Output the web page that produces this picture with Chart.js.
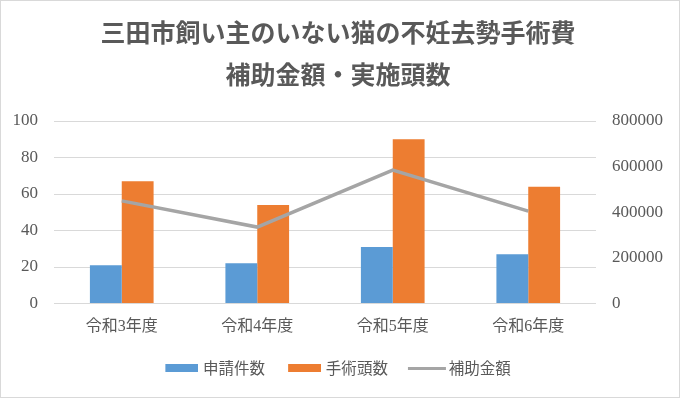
<!DOCTYPE html>
<html>
<head>
<meta charset="utf-8">
<script src="https://cdn.jsdelivr.net/npm/chart.js@4"></script>
<style>
  body { margin: 0; background: #fff; }
  #wrap { position: relative; width: 680px; height: 398px; box-sizing: border-box; border: 1px solid #d9d9d9; }
</style>
</head>
<body>
<div id="wrap"><canvas id="chart"></canvas></div>
<script>
const years = ["令和3年度", "令和4年度", "令和5年度", "令和6年度"];
const applications = [21, 22, 31, 27];
const surgeries = [67, 54, 90, 64];
const subsidy = [450000, 335000, 585000, 405000];

const leftTicks = [0, 20, 40, 60, 80, 100];
const rightTicks = [0, 200000, 400000, 600000, 800000];

const textColor = "#595959";
const numFont = '"Liberation Serif", "Noto Sans CJK JP", serif';
const jpFont = '"Noto Sans CJK JP", sans-serif';

// little pictures used as legend marks (transparent left part shifts the mark)
function mark(canvasW, fillX, fillW, h, color) {
  const c = document.createElement("canvas");
  c.width = canvasW;
  c.height = h;
  const g = c.getContext("2d");
  g.fillStyle = color;
  g.fillRect(fillX, 0, fillW, h);
  return c;
}
const legendMarks = [
  mark(36, 3, 33, 8, "#5B9BD5"),
  mark(36, 3, 33, 8, "#ED7D31"),
  mark(42, 3, 38, 3, "#A5A5A5")
];

const ctx = document.getElementById("chart").getContext("2d");

new Chart(ctx, {
  type: "bar",
  data: {
    labels: years,
    datasets: [
      {
        label: "申請件数",
        data: applications,
        backgroundColor: "#5B9BD5",
        yAxisID: "y",
        order: 1,
        categoryPercentage: 0.47,
        barPercentage: 1
      },
      {
        label: "手術頭数",
        data: surgeries,
        backgroundColor: "#ED7D31",
        yAxisID: "y",
        order: 1,
        categoryPercentage: 0.47,
        barPercentage: 1
      },
      {
        type: "line",
        label: "補助金額",
        data: subsidy,
        borderColor: "#A5A5A5",
        backgroundColor: "#A5A5A5",
        borderWidth: 3.5,
        pointRadius: 0,
        tension: 0,
        yAxisID: "y1",
        order: 0
      }
    ]
  },
  options: {
    responsive: true,
    maintainAspectRatio: false,
    animation: false,
    layout: {
      padding: { left: 9, right: 13, top: 0, bottom: 11 }
    },
    scales: {
      x: {
        grid: { display: false },
        border: { display: false },
        ticks: {
          color: textColor,
          font: { family: numFont, size: 16 },
          padding: 6
        },
        afterFit: axis => { axis.height = 34; }
      },
      y: {
        position: "left",
        min: 0,
        max: 100,
        afterBuildTicks: axis => { axis.ticks = leftTicks.map(v => ({ value: v })); },
        grid: { color: "#d9d9d9", drawTicks: false },
        border: { display: false },
        ticks: {
          color: textColor,
          font: { family: numFont, size: 17 },
          padding: 16
        },
        afterFit: axis => { axis.width = 44; }
      },
      y1: {
        position: "right",
        min: 0,
        max: 800000,
        afterBuildTicks: axis => { axis.ticks = rightTicks.map(v => ({ value: v })); },
        grid: { display: false, drawTicks: false },
        border: { display: false },
        ticks: {
          color: textColor,
          font: { family: numFont, size: 17 },
          padding: 16,
          callback: v => String(v)
        },
        afterFit: axis => { axis.width = 70; }
      }
    },
    plugins: {
      title: {
        display: true,
        text: ["三田市飼い主のいない猫の不妊去勢手術費", "補助金額・実施頭数"],
        color: textColor,
        font: { family: jpFont, size: 25, weight: "bold", lineHeight: 1.68 },
        padding: { top: 10, bottom: 26 }
      },
      legend: {
        position: "bottom",
        labels: {
          color: textColor,
          font: { family: jpFont, size: 15.5 },
          usePointStyle: true,
          pointStyleWidth: 30,
          padding: 23,
          sort: (a, b) => a.datasetIndex - b.datasetIndex,
          generateLabels(chart) {
            const items = Chart.defaults.plugins.legend.labels.generateLabels(chart);
            items.forEach(it => { it.pointStyle = legendMarks[it.datasetIndex]; });
            return items;
          }
        }
      },
      tooltip: { enabled: false }
    }
  }
});
</script>
</body>
</html>
